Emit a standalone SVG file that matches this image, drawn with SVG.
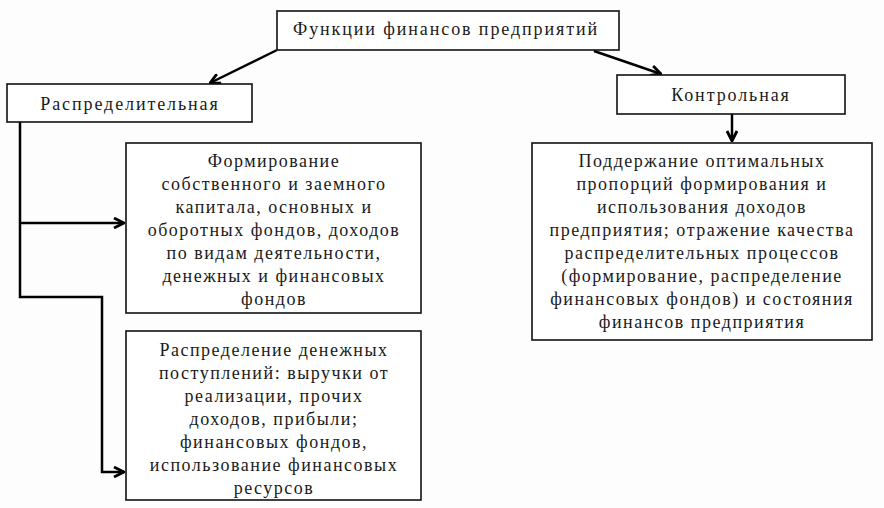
<svg xmlns="http://www.w3.org/2000/svg" width="884" height="508" viewBox="0 0 884 508">
<defs>
<style>
.box{fill:#fff;stroke:#111;stroke-width:1.6}
.t{font-family:"Liberation Serif","Times New Roman",serif;font-size:18px;fill:#1a1a1a;text-anchor:middle;letter-spacing:1.5px}
.h{letter-spacing:1.9px}
.c{fill:none;stroke:#000;stroke-width:2.5}
</style>
<marker id="ah" viewBox="0 0 12 12" refX="11" refY="6" markerWidth="12" markerHeight="12" markerUnits="userSpaceOnUse" orient="auto">
<path d="M1,1 L11,6 L1,11" fill="none" stroke="#000" stroke-width="2.8"/>
</marker>
</defs>
<rect width="884" height="508" fill="#fdfdfd"/>
<g id="connectors">
<line class="c" x1="277" y1="50" x2="210" y2="83" marker-end="url(#ah)" stroke-width="3.5"/>
<line class="c" x1="594" y1="51" x2="661" y2="74" marker-end="url(#ah)" stroke-width="3"/>
<line class="c" x1="732" y1="114" x2="732" y2="141" marker-end="url(#ah)"/>
<polyline class="c" points="20,122 20,297 102,297 102,472 124,472" marker-end="url(#ah)" stroke-width="2"/>
<line class="c" x1="20" y1="223" x2="124" y2="223" marker-end="url(#ah)"/>
</g>
<g id="n-top">
<rect class="box" x="277" y="11" width="342" height="39"/>
<text class="t h" x="446" y="35">Функции финансов предприятий</text>
</g>
<g id="n-raspr">
<rect class="box" x="7" y="84" width="245" height="38"/>
<text class="t h" x="130" y="110">Распределительная</text>
</g>
<g id="n-kontr">
<rect class="box" x="617" y="75" width="228" height="39"/>
<text class="t h" x="731" y="101">Контрольная</text>
</g>
<g id="n-form">
<rect class="box" x="126" y="143" width="295" height="170"/>
<text class="t" x="274" y="167">Формирование</text>
<text class="t" x="274" y="190">собственного и заемного</text>
<text class="t" x="274" y="213">капитала, основных и</text>
<text class="t" x="274" y="236">оборотных фондов, доходов</text>
<text class="t" x="274" y="259">по видам деятельности,</text>
<text class="t" x="274" y="282">денежных и финансовых</text>
<text class="t" x="274" y="305">фондов</text>
</g>
<g id="n-rasp2">
<rect class="box" x="126" y="331" width="295" height="169"/>
<text class="t" x="274" y="356">Распределение денежных</text>
<text class="t" x="274" y="379">поступлений: выручки от</text>
<text class="t" x="274" y="402">реализации, прочих</text>
<text class="t" x="274" y="425">доходов, прибыли;</text>
<text class="t" x="274" y="448">финансовых фондов,</text>
<text class="t" x="274" y="471">использование финансовых</text>
<text class="t" x="274" y="494">ресурсов</text>
</g>
<g id="n-podd">
<rect class="box" x="532" y="143" width="340" height="197"/>
<text class="t" x="702" y="167">Поддержание оптимальных</text>
<text class="t" x="702" y="190">пропорций формирования и</text>
<text class="t" x="702" y="213">использования доходов</text>
<text class="t" x="702" y="236">предприятия; отражение качества</text>
<text class="t" x="702" y="259">распределительных процессов</text>
<text class="t" x="702" y="282">(формирование, распределение</text>
<text class="t" x="702" y="305">финансовых фондов) и состояния</text>
<text class="t" x="702" y="328">финансов предприятия</text>
</g>
</svg>
